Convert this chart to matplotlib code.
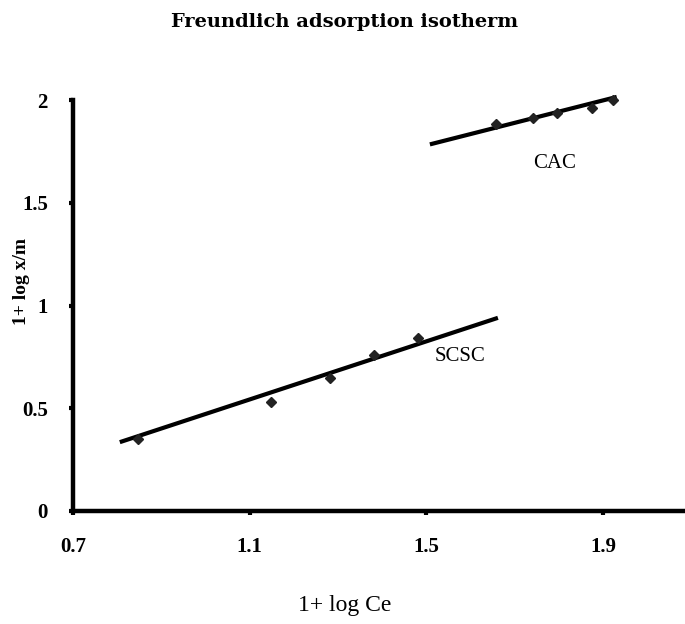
import numpy as np
import matplotlib
matplotlib.use("Agg")
import matplotlib.pyplot as plt

# 1 + log Ce against 1 + log x/m for the two carbons
scsc_x = [0.848, 1.148, 1.282, 1.381, 1.482]
scsc_y = [0.35, 0.53, 0.645, 0.76, 0.84]
cac_x = [1.658, 1.742, 1.796, 1.874, 1.922]
cac_y = [1.885, 1.91, 1.935, 1.96, 2.0]

# trend line end points
scsc_fit_x = [0.806, 1.662]
scsc_fit_y = [0.335, 0.94]
cac_fit_x = [1.508, 1.931]
cac_fit_y = [1.784, 2.015]

x_ticks = [0.7, 1.1, 1.5, 1.9]
y_ticks = [0, 0.5, 1, 1.5, 2]

SERIF = "Liberation Serif"

fig = plt.figure(figsize=(6.85, 6.24), dpi=100)
ax = fig.add_axes([73 / 685, 1 - 511 / 624, 1 - 73 / 685, 411 / 624])

for fx, fy in ((scsc_fit_x, scsc_fit_y), (cac_fit_x, cac_fit_y)):
    ax.plot(fx, fy, color="black", linewidth=3.0, solid_capstyle="butt",
            zorder=2, clip_on=False)
for px, py in ((scsc_x, scsc_y), (cac_x, cac_y)):
    ax.plot(px, py, linestyle="none", marker="D", markersize=5.5,
            color="#222222", zorder=3, clip_on=False)

ax.text(1.791, 1.693, "CAC", family=SERIF, fontsize=15, ha="center", va="center")
ax.text(1.576, 0.75, "SCSC", family=SERIF, fontsize=15, ha="center", va="center")

ax.set_xlim(0.7, 0.7 + 612 / 441.7)
ax.set_ylim(0, 2)
ax.set_xticks(x_ticks)
ax.set_xticklabels([f"{v:g}" for v in x_ticks])
ax.set_yticks(y_ticks)
ax.set_yticklabels([f"{v:g}" for v in y_ticks])

for side in ("top", "right"):
    ax.spines[side].set_visible(False)
for side in ("left", "bottom"):
    ax.spines[side].set_linewidth(3.2)
    ax.spines[side].set_capstyle("projecting")

ax.tick_params(axis="both", direction="out", length=3, width=3, color="black",
               labelsize=15)
for lab in ax.get_xticklabels() + ax.get_yticklabels():
    lab.set_family(SERIF)
    lab.set_fontweight("bold")
ax.tick_params(axis="y", pad=15)
ax.tick_params(axis="x", pad=16)

fig.text(345 / 685, 1 - 22 / 624, "Freundlich adsorption isotherm", family="DejaVu Serif",
         fontweight="bold", fontsize=14, ha="center", va="center")
fig.text(345 / 685, 1 - 605 / 624, "1+ log Ce", family=SERIF, fontsize=17,
         ha="center", va="center")
fig.text(22 / 685, 1 - 282 / 624, "1+ log x/m", family=SERIF, fontweight="bold",
         fontsize=14, rotation=90, ha="center", va="center")

fig.savefig("out.png", dpi=100, facecolor="white")
